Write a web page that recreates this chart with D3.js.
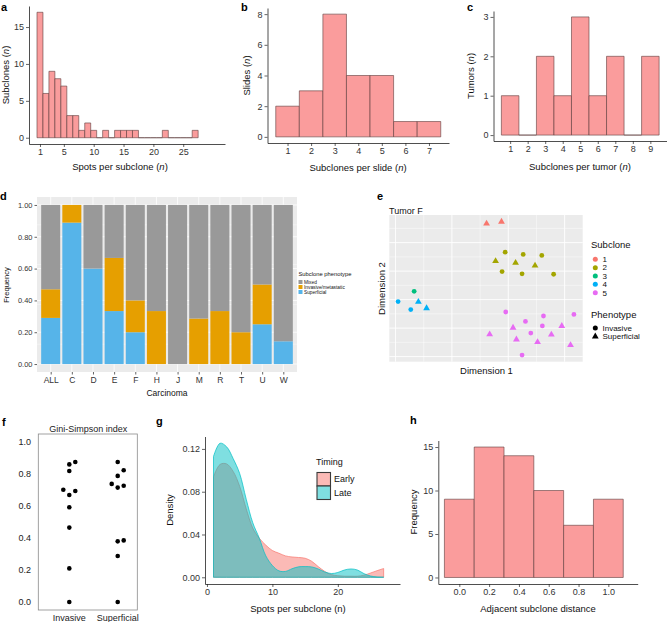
<!DOCTYPE html>
<html>
<head>
<meta charset="utf-8">
<script src="https://cdn.jsdelivr.net/npm/d3@7"></script>
<style>
body { margin: 0; background: #fff; }
text { font-family: "Liberation Sans", Arial, Helvetica, sans-serif; }
</style>
</head>
<body>
<div class="fig"></div>
<script>
// ---- data ----
var spotBins = d3.range(1, 28);
var spotCounts = [17, 6, 9, 8, 7, 3, 3, 1, 2, 1, 0, 1, 0, 1, 1, 1, 1, 0, 0, 0, 0, 1, 0, 0, 0, 0, 1];

var slideBins = [1, 2, 3, 4, 5, 6, 7];
var slideCounts = [2, 3, 8, 4, 4, 1, 1];

var tumorBins = [1, 2, 3, 4, 5, 6, 7, 8, 9];
var tumorCounts = [1, 0, 2, 1, 3, 1, 2, 0, 2];

var carcinomas = ["ALL", "C", "D", "E", "F", "H", "J", "M", "R", "T", "U", "W"];
var superficialFreq = [0.29, 0.889, 0.6, 0.333, 0.2, 0, 0, 0, 0, 0, 0.25, 0.143];
var invasiveFreq = [0.18, 0.111, 0, 0.334, 0.2, 0.333, 0, 0.286, 0.333, 0.2, 0.25, 0];
var phenoNames = ["Mixed", "Invasive/metastatic", "Superficial"];

var tsneSubclone = [1, 1, 2, 2, 2, 2, 2, 2, 2, 2, 2, 3, 4, 4, 4, 4,
                    5, 5, 5, 5, 5, 5, 5, 5, 5, 5, 5, 5, 5, 5];
var tsnePheno = ["S", "S", "I", "I", "I", "I", "I", "I", "S", "S", "S", "I", "I", "I", "S", "S",
                 "I", "I", "I", "I", "I", "I", "I", "S", "S", "S", "S", "S", "S", "S"];
var tsneDim1 = [3.23, 3.76, 3.89, 4.53, 5.19, 3.78, 4.49, 5.61, 3.55, 4.26, 4.95, 0.66, 0.09, 0.54, 0.81, 1.10,
                3.91, 5.25, 6.33, 4.61, 5.21, 4.80, 4.49, 4.17, 3.34, 4.29, 5.04, 5.53, 5.90, 6.21];
var tsneDim2 = [5.33, 5.47, 3.33, 3.17, 3.10, 1.97, 1.81, 1.78, 2.70, 2.58, 2.39, 0.58, -0.14, -0.70, -0.16, -0.61,
                -0.87, -1.15, -1.04, -1.53, -1.85, -2.35, -3.89, -1.97, -2.44, -2.80, -2.98, -2.46, -1.85, -3.19];

var giniInvasive = [0, 0.21, 0.465, 0.592, 0.669, 0.694, 0.702, 0.819, 0.86, 0.875];
var giniSuperficial = [0, 0.2875, 0.379, 0.385, 0.715, 0.727, 0.738, 0.788, 0.823, 0.875];

var densX = d3.range(1, 28);
var densEarly = [0.094, 0.1055, 0.106, 0.099, 0.085, 0.064, 0.046, 0.0365, 0.030, 0.025, 0.0225, 0.020, 0.019, 0.0185,
                 0.0178, 0.015, 0.010, 0.0055, 0.0025, 0.0015, 0.001, 0.001, 0.001, 0.002, 0.004, 0.0062, 0.0082];
var densLate = [0.113, 0.1253, 0.122, 0.111, 0.097, 0.073, 0.051, 0.0365, 0.020, 0.011, 0.006, 0.0055, 0.008, 0.0098,
                0.0100, 0.0097, 0.0078, 0.005, 0.0035, 0.0045, 0.0068, 0.0078, 0.0068, 0.0034, 0.0012, 0.0003, 0.0001];

var distBins = [0, 0.2, 0.4, 0.6, 0.8, 1.0];
var distCounts = [9, 15, 14, 10, 6, 9];

// ---- drawing ----
var barFill = "#FA9C9C", barLine = "#5E3C3C";
var subColors = ["#F8766D", "#A3A500", "#00BF7D", "#00B0F6", "#E76BF3"];
var phenoColors = ["#999999", "#E69F00", "#56B4E9"];

var svg = d3.select(".fig").append("svg")
    .attr("width", 667)
    .attr("height", 622);

function letter(t, x, y) {
    svg.append("text").text(t).attr("x", x).attr("y", y)
        .style("font-weight", "bold").style("font-size", "11px");
}

function styleAxis(ax, size) {
    ax.select(".domain").style("stroke", "#222").style("stroke-width", 0.8);
    ax.selectAll(".tick line").style("stroke", "#222").style("stroke-width", 0.7);
    ax.selectAll(".tick text").style("fill", "#333").style("font-size", size + "px")
        .style("font-family", "'Liberation Sans', Arial, sans-serif");
}

function axisTitle(txt, italic, x, y, rot, size) {
    var t = svg.append("text")
        .attr("transform", "translate(" + x + "," + y + ")" + (rot ? " rotate(-90)" : ""))
        .attr("text-anchor", "middle")
        .attr("dy", "0.35em")
        .style("font-size", (size || 9.5) + "px")
        .style("fill", "#111");
    t.append("tspan").text(txt);
    if (italic) {
        t.append("tspan").text("(");
        t.append("tspan").text("n").style("font-style", "italic");
        t.append("tspan").text(")");
    }
    return t;
}

function drawHist(cfg) {
    var x = d3.scaleLinear().domain(cfg.xDomain).range(cfg.xRange);
    var y = d3.scaleLinear().domain(cfg.yDomain).range(cfg.yRange);
    var g = svg.append("g");
    g.selectAll("path.bar").data(cfg.bins).enter().append("path")
        .attr("class", "bar")
        .attr("d", function(d, i) {
            var x0 = x(d - cfg.bw / 2), x1 = x(d + cfg.bw / 2);
            return "M" + x0 + "," + y(0) + "V" + y(cfg.counts[i]) + "H" + x1 + "V" + y(0) + "Z";
        })
        .style("fill", barFill)
        .style("stroke", barLine)
        .style("stroke-width", 0.6);
    var xa = g.append("g")
        .attr("transform", "translate(0," + cfg.yRange[0] + ")")
        .call(d3.axisBottom(x).tickValues(cfg.xTicks).tickSize(3).tickSizeOuter(0).tickPadding(2)
              .tickFormat(cfg.xFmt || d3.format("d")));
    styleAxis(xa, 9);
    var ya = g.append("g")
        .attr("transform", "translate(" + cfg.xRange[0] + ",0)")
        .call(d3.axisLeft(y).tickValues(cfg.yTicks).tickSize(3).tickSizeOuter(0).tickPadding(2)
              .tickFormat(d3.format("d")));
    styleAxis(ya, 9);
    return {x: x, y: y};
}

// a
letter("a", 1, 10.5);
drawHist({bins: spotBins, counts: spotCounts, bw: 1,
    xDomain: [-0.84, 32], xRange: [29, 225], yDomain: [-0.85, 17.85], yRange: [144, 6],
    xTicks: [1, 5, 10, 15, 20, 25], yTicks: [0, 5, 10, 15]});
axisTitle("Spots per subclone ", true, 120, 167);
axisTitle("Subclones ", true, 6, 75, true);

// b
letter("b", 241, 10.5);
drawHist({bins: slideBins, counts: slideCounts, bw: 1,
    xDomain: [0.15, 7.85], xRange: [267.5, 449], yDomain: [-0.4, 8.4], yRange: [143, 8],
    xTicks: slideBins, yTicks: [0, 2, 4, 6, 8]});
axisTitle("Subclones per slide ", true, 358, 168);
axisTitle("Slides ", true, 247, 75.5, true);

// c
letter("c", 467, 10.5);
drawHist({bins: tumorBins, counts: tumorCounts, bw: 1,
    xDomain: [0.05, 9.95], xRange: [493.5, 667], yDomain: [-0.15, 3.15], yRange: [141, 11],
    xTicks: tumorBins, yTicks: [0, 1, 2, 3]});
axisTitle("Subclones per tumor ", true, 580, 167);
axisTitle("Tumors ", true, 471, 76, true);

// d  stacked frequency bars
letter("d", 0, 199.5);
(function() {
    var x = d3.scalePoint().domain(carcinomas).range([38, 296]).padding(0.6);
    var y = d3.scaleLinear().domain([-0.05, 1.05]).range([372, 197]);
    var bw = x.step() * 0.9;
    var rows = carcinomas.map(function(c, i) {
        return {name: c, Superficial: superficialFreq[i], "Invasive/metastatic": invasiveFreq[i],
                Mixed: 1 - superficialFreq[i] - invasiveFreq[i]};
    });
    var stack = d3.stack().keys(["Superficial", "Invasive/metastatic", "Mixed"])(rows);
    var color = d3.scaleOrdinal().domain(phenoNames).range(phenoColors);
    var g = svg.append("g");
    g.append("rect").attr("x", 37).attr("y", 197).attr("width", 260).attr("height", 175)
        .style("fill", "#EBEBEB");
    [0.125, 0.375, 0.625, 0.875].forEach(function(v) {
        g.append("line").attr("x1", 37).attr("x2", 297).attr("y1", y(v)).attr("y2", y(v))
            .style("stroke", "#fff").style("stroke-width", 0.4);
    });
    y.ticks(4).forEach(function(v) {
        g.append("line").attr("x1", 37).attr("x2", 297).attr("y1", y(v)).attr("y2", y(v))
            .style("stroke", "#fff").style("stroke-width", 0.8);
    });
    carcinomas.forEach(function(c) {
        g.append("line").attr("x1", x(c)).attr("x2", x(c)).attr("y1", 197).attr("y2", 372)
            .style("stroke", "#fff").style("stroke-width", 0.8);
    });
    g.selectAll("g.layer").data(stack).enter().append("g").attr("class", "layer")
        .style("fill", function(d) { return color(d.key); })
        .selectAll("rect").data(function(d) { return d; }).enter().append("rect")
        .attr("x", function(d) { return x(d.data.name) - bw / 2; })
        .attr("width", bw)
        .attr("y", function(d) { return y(d[1]); })
        .attr("height", function(d) { return Math.max(0, y(d[0]) - y(d[1])); });
    var ya = g.append("g").attr("transform", "translate(37,0)")
        .call(d3.axisLeft(y).ticks(4).tickSize(2.5).tickSizeOuter(0).tickPadding(2).tickFormat(d3.format(".2f")));
    ya.select(".domain").remove();
    styleAxis(ya, 7.5);
    var xa = g.append("g").attr("transform", "translate(0,372)")
        .call(d3.axisBottom(x).tickSize(2.5).tickSizeOuter(0).tickPadding(2));
    xa.select(".domain").remove();
    styleAxis(xa, 8.5);
    axisTitle("Carcinoma", false, 167, 393, false, 8.5);
    axisTitle("Frequency", false, 6, 285, true, 7.5);
    // legend
    svg.append("text").text("Subclone phenotype").attr("x", 298.5).attr("y", 275.5)
        .style("font-size", "5.8px").style("fill", "#111");
    phenoNames.forEach(function(p, i) {
        svg.append("rect").attr("x", 298.5).attr("y", 280 + i * 5).attr("width", 4).attr("height", 4)
            .style("fill", color(p));
        svg.append("text").text(p).attr("x", 304).attr("y", 282 + i * 5).attr("dy", "0.35em")
            .style("font-size", "4.8px").style("fill", "#111");
    });
})();

// e  tumor F embedding
letter("e", 377, 199.5);
(function() {
    var ext1 = d3.extent(tsneDim1), ext2 = d3.extent(tsneDim2);
    var p1 = (ext1[1] - ext1[0]) * 0.05, p2 = (ext2[1] - ext2[0]) * 0.05;
    var x = d3.scaleLinear().domain([ext1[0] - p1, ext1[1] + p1]).range([389.3, 582.7]);
    var y = d3.scaleLinear().domain([ext2[0] - p2, ext2[1] + p2]).range([361.7, 215]);
    var g = svg.append("g");
    g.append("rect").attr("x", 389.3).attr("y", 215).attr("width", 193.4).attr("height", 146.7)
        .style("fill", "#EBEBEB");
    var xt = x.ticks(4), yt = y.ticks(5);
    var xstep = xt[1] - xt[0], ystep = yt[1] - yt[0];
    d3.range(Math.ceil(x.domain()[0] / (xstep / 2)), Math.floor(x.domain()[1] / (xstep / 2)) + 1).forEach(function(k) {
        var v = k * xstep / 2;
        var major = xt.indexOf(v) >= 0;
        g.append("line").attr("x1", x(v)).attr("x2", x(v)).attr("y1", 215).attr("y2", 361.7)
            .style("stroke", "#fff").style("stroke-width", major ? 0.9 : 0.45);
    });
    d3.range(Math.ceil(y.domain()[0] / (ystep / 2)), Math.floor(y.domain()[1] / (ystep / 2)) + 1).forEach(function(k) {
        var v = k * ystep / 2;
        var major = yt.indexOf(v) >= 0;
        g.append("line").attr("x1", 389.3).attr("x2", 582.7).attr("y1", y(v)).attr("y2", y(v))
            .style("stroke", "#fff").style("stroke-width", major ? 0.9 : 0.45);
    });
    var tri = d3.symbol().type(d3.symbolTriangle).size(20);
    tsneDim1.forEach(function(d, i) {
        var col = subColors[tsneSubclone[i] - 1];
        if (tsnePheno[i] == "I") {
            g.append("circle").attr("cx", x(d)).attr("cy", y(tsneDim2[i])).attr("r", 2.4).style("fill", col);
        } else {
            g.append("path").attr("d", tri)
                .attr("transform", "translate(" + x(d) + "," + y(tsneDim2[i]) + ")").style("fill", col);
        }
    });
    svg.append("text").text("Tumor F").attr("x", 389).attr("y", 210.7).attr("dy", "0.35em")
        .style("font-size", "9px").style("fill", "#111");
    axisTitle("Dimension 1", false, 486.5, 371, false, 9.5);
    axisTitle("Dimension 2", false, 382, 288.5, true, 9.5);
    // legends
    svg.append("text").text("Subclone").attr("x", 591).attr("y", 244.5).attr("dy", "0.35em")
        .style("font-size", "9.5px").style("fill", "#111");
    subColors.forEach(function(c, i) {
        var yy = 259.3 + i * 8.35;
        svg.append("circle").attr("cx", 595.3).attr("cy", yy).attr("r", 2.5).style("fill", c);
        svg.append("text").text(i + 1).attr("x", 602.5).attr("y", yy).attr("dy", "0.35em")
            .style("font-size", "8px").style("fill", "#111");
    });
    svg.append("text").text("Phenotype").attr("x", 591).attr("y", 314.3).attr("dy", "0.35em")
        .style("font-size", "9.5px").style("fill", "#111");
    svg.append("circle").attr("cx", 595.3).attr("cy", 328).attr("r", 2.5).style("fill", "#000");
    svg.append("path").attr("d", tri).attr("transform", "translate(595.3,336.5)").style("fill", "#000");
    svg.append("text").text("Invasive").attr("x", 602.5).attr("y", 328).attr("dy", "0.35em")
        .style("font-size", "8px").style("fill", "#111");
    svg.append("text").text("Superficial").attr("x", 602.5).attr("y", 336.3).attr("dy", "0.35em")
        .style("font-size", "8px").style("fill", "#111");
})();

// f  Gini-Simpson beeswarm
letter("f", 2, 426);
(function() {
    var x = d3.scaleLinear().domain([1, 2]).range([69.3, 117.7]);
    var y = d3.scaleLinear().domain([-0.05, 1.05]).range([610, 434]);
    var g = svg.append("g");
    g.append("rect").attr("x", 38.3).attr("y", 434).attr("width", 99).attr("height", 176)
        .style("fill", "none").style("stroke", "#8a8a8a").style("stroke-width", 0.8);
    var gap = 6;
    [giniInvasive, giniSuperficial].forEach(function(vals, gi) {
        var placed = [];
        vals.slice().sort(d3.ascending).forEach(function(v) {
            var cy = y(v), offs = [0, 1, -1, 2, -2], dx = 0;
            for (var k = 0; k < offs.length; k++) {
                var cand = offs[k] * gap;
                var hit = placed.some(function(p) {
                    return Math.hypot(p[0] - cand, p[1] - cy) < gap - 0.01;
                });
                if (!hit) { dx = cand; break; }
            }
            placed.push([dx, cy]);
            g.append("circle").attr("cx", x(gi + 1) + dx).attr("cy", cy).attr("r", 2.3).style("fill", "#000");
        });
    });
    [0, 0.2, 0.4, 0.6, 0.8, 1.0].forEach(function(v) {
        g.append("text").text(d3.format(".1f")(v)).attr("x", 31).attr("y", y(v)).attr("dy", "0.35em")
            .attr("text-anchor", "end").style("font-size", "9px").style("fill", "#222");
    });
    ["Invasive", "Superficial"].forEach(function(n, i) {
        g.append("text").text(n).attr("x", x(i + 1)).attr("y", 617.5).attr("dy", "0.35em")
            .attr("text-anchor", "middle").style("font-size", "9px").style("fill", "#222");
    });
    g.append("text").text("Gini-Simpson index").attr("x", 88.3).attr("y", 428.5).attr("dy", "0.35em")
        .attr("text-anchor", "middle").style("font-size", "9px").style("fill", "#222");
})();

// g  density
letter("g", 156, 425);
(function() {
    var x = d3.scaleLinear().domain([-0.3, 29.5]).range([205, 400]);
    var y = d3.scaleLinear().domain([-0.00627, 0.1316]).range([584, 436.5]);
    var g = svg.append("g");
    var area = d3.area().x(function(d) { return x(d[0]); }).y0(y(0)).y1(function(d) { return y(d[1]); })
        .curve(d3.curveCatmullRom);
    var series = [["#F8766D", densEarly], ["#00BFC4", densLate]];
    series.forEach(function(s) {
        var pts = densX.map(function(v, i) { return [v, s[1][i]]; });
        g.append("path").attr("d", area(pts))
            .style("fill", s[0]).style("fill-opacity", 0.5)
            .style("stroke", s[0]).style("stroke-width", 0.7);
    });
    var xa = g.append("g").attr("transform", "translate(0,584)")
        .call(d3.axisBottom(x).tickValues([0, 10, 20]).tickSize(3).tickSizeOuter(0).tickPadding(2));
    styleAxis(xa, 9);
    var ya = g.append("g").attr("transform", "translate(205,0)")
        .call(d3.axisLeft(y).tickValues([0, 0.04, 0.08, 0.12]).tickSize(3).tickSizeOuter(0).tickPadding(2)
              .tickFormat(d3.format(".2f")));
    styleAxis(ya, 9);
    axisTitle("Spots per subclone (n)", false, 298, 609);
    axisTitle("Density", false, 170, 510, true);
    svg.append("text").text("Timing").attr("x", 316).attr("y", 461.5).attr("dy", "0.35em")
        .style("font-size", "9px").style("fill", "#111");
    ["Early", "Late"].forEach(function(n, i) {
        svg.append("rect").attr("x", 317).attr("y", 472.5 + i * 13.5).attr("width", 13.5).attr("height", 13.5)
            .style("fill", i ? "#7FDFE1" : "#FBBAB6").style("stroke", "#3a3a3a").style("stroke-width", 1.1);
        svg.append("text").text(n).attr("x", 334).attr("y", 479.3 + i * 13.5).attr("dy", "0.35em")
            .style("font-size", "9px").style("fill", "#111");
    });
})();

// h
letter("h", 410, 424);
drawHist({bins: distBins, counts: distCounts, bw: 0.2,
    xDomain: [-0.141, 1.197], xRange: [438.3, 637.7], yDomain: [-0.75, 15.75], yRange: [584, 440.5],
    xTicks: distBins, yTicks: [0, 5, 10, 15], xFmt: d3.format(".1f")});
axisTitle("Adjacent subclone distance", false, 538, 608.5);
axisTitle("Frequency", false, 414, 512, true);
</script>
</body>
</html>
